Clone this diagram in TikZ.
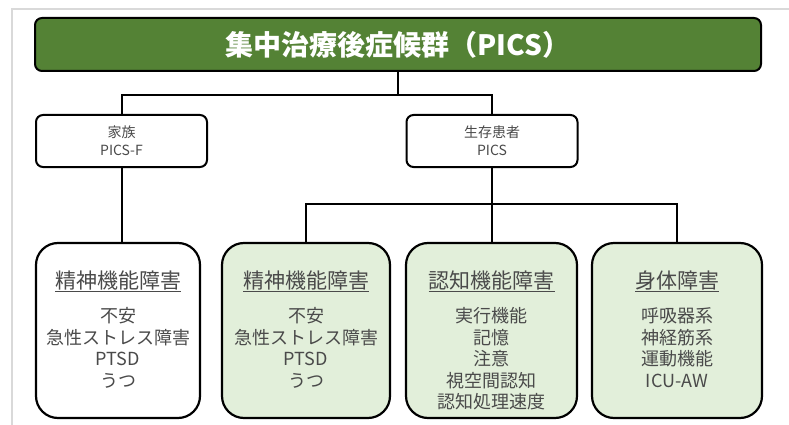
\documentclass[tikz,border=0pt]{standalone}
\usepackage{fontspec}
\setmainfont{Noto Sans CJK JP}
\usepackage{tikz}
\definecolor{picsgreen}{HTML}{548235}
\definecolor{palegreen}{HTML}{E2EFDA}
\definecolor{textgray}{HTML}{4A4A4A}
\definecolor{framegray}{HTML}{D9D9D9}
\tikzstyle{title} = [rectangle, rounded corners=7pt, minimum width=726pt, minimum height=53pt, text centered, draw=black, line width=2pt, fill=picsgreen, text=white, font=\fontsize{28}{32}\selectfont\bfseries]
\tikzstyle{group} = [rectangle, rounded corners=7pt, minimum width=171pt, minimum height=52pt, text centered, align=center, draw=black, line width=2pt, fill=white, text=textgray, font=\fontsize{14}{18}\selectfont]
\tikzstyle{symptom} = [rectangle, rounded corners=22pt, minimum height=175pt, inner sep=0pt, draw=black, line width=2.2pt, text=textgray]
\tikzstyle{line} = [line width=2pt]
\newcommand{\symlist}[2]{\parbox[t][150pt][t]{150pt}{\centering\vspace*{15pt}{\fontsize{21}{24}\selectfont\underline{#1}\par}\vspace{13pt}{\fontsize{18}{21.5}\selectfont #2\par}}}

\begin{document}
\begin{tikzpicture}[x=1pt,y=1pt]
\useasboundingbox (0,0) rectangle (789,-425);
\draw [framegray, line width=1.5pt] (12,-425) -- (12,-9) -- (789,-9);
\node (pics) [title] at (398,-44.5) {集中治療後症候群（PICS）};
\node (fam) [group] at (121.5,-141) {家族\\PICS-F};
\node (pat) [group] at (492,-141) {生存患者\\PICS};
\node (psy1) [symptom, fill=white, minimum width=164pt] at (118,-330.5) {\symlist{精神機能障害}{不安\\急性ストレス障害\\PTSD\\うつ}};
\node (psy2) [symptom, fill=palegreen, minimum width=168pt] at (306,-330.5) {\symlist{精神機能障害}{不安\\急性ストレス障害\\PTSD\\うつ}};
\node (cog) [symptom, fill=palegreen, minimum width=171pt] at (491.5,-330.5) {\symlist{認知機能障害}{実行機能\\記憶\\注意\\視空間認知\\認知処理速度}};
\node (phys) [symptom, fill=palegreen, minimum width=170pt] at (677,-330.5) {\symlist{身体障害}{呼吸器系\\神経筋系\\運動機能\\ICU-AW}};
\coordinate (top split) at (398,-95);
\coordinate (bottom split) at (492,-204);
\draw [line] (pics) -- (top split);
\draw [line] (top split) -| (fam);
\draw [line] (top split) -| (pat);
\draw [line] (fam) -- (fam |- psy1.north);
\draw [line] (pat) -- (bottom split);
\draw [line] (bottom split) -| (psy2);
\draw [line] (bottom split) -- (bottom split |- cog.north);
\draw [line] (bottom split) -| (phys);

\end{tikzpicture}
\end{document}
